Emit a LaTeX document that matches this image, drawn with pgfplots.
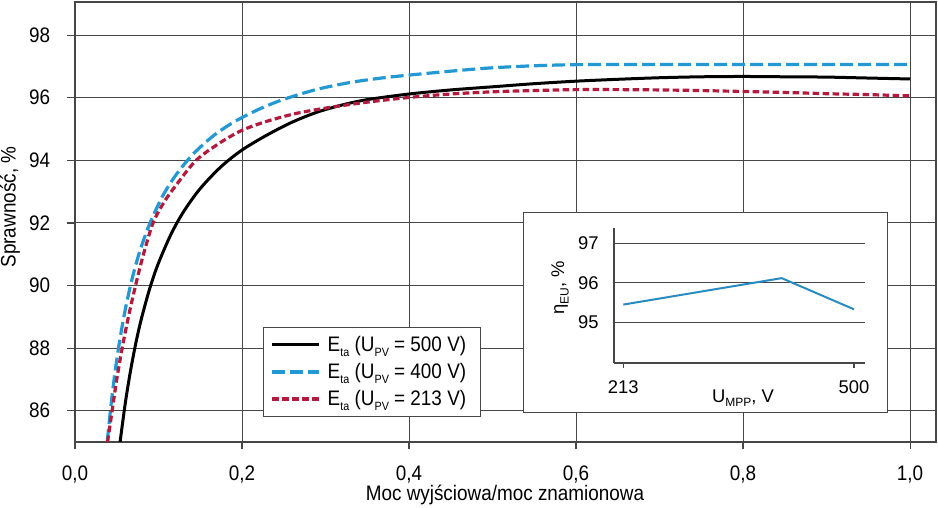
\documentclass[border=0pt]{standalone}
\usepackage{fontspec}
\setmainfont{Liberation Sans}[FakeStretch=0.9]
\newfontfamily\insetfont{Liberation Sans}
\usepackage{pgfplots}
\pgfplotsset{compat=1.18}

\definecolor{curveblue}{RGB}{35,152,210}
\definecolor{curvered}{RGB}{178,27,62}
\definecolor{insetblue}{RGB}{40,140,195}
\definecolor{gridgray}{RGB}{70,70,70}

\newcommand{\mainsize}{\fontsize{10.5}{12}\selectfont}
\newcommand{\insetsize}{\insetfont\fontsize{9.2}{11}\selectfont}
\newcommand{\sub}[1]{\raisebox{-0.45ex}{\fontsize{6}{6}\selectfont #1}}

\begin{document}
\begin{tikzpicture}
\begin{axis}[
  at={(0pt,0pt)}, anchor=south west,
  scale only axis, width=430.5pt, height=220pt,
  xmin=0, xmax=1.031, ymin=85, ymax=99.06,
  xtick={0,0.2,0.4,0.6,0.8,1}, ytick={86,88,90,92,94,96,98},
  /pgf/number format/assume math mode=true,
  xticklabel style={/pgf/number format/use comma, /pgf/number format/fixed,
    /pgf/number format/fixed zerofill, /pgf/number format/precision=1,
    anchor=north, inner sep=0pt, yshift=-8pt, font=\mainsize},
  yticklabel style={anchor=east, inner sep=0pt, xshift=-8.5pt, font=\mainsize},
  tick align=outside, xtick pos=bottom, ytick pos=left,
  major tick length=3.75pt,
  tick style={gridgray, line width=0.6pt},
  grid=major, major grid style={gridgray, line width=0.5pt},
  axis line style={gridgray, line width=0.6pt},
  xlabel={Moc wyjściowa/moc znamionowa},
  ylabel={Sprawność, \%},
  xlabel style={at={(axis description cs:0.4994,-0.1205)}, anchor=center, font=\mainsize},
  ylabel style={at={(axis description cs:-0.0755,0.534)}, anchor=center, font=\mainsize},
  legend image code/.code={\draw[#1] (0pt,0pt) -- (23.5pt,0pt);},
  legend cell align=left,
  legend style={at={(0.2184,0.2614)}, anchor=north west, draw=gridgray,
    line width=0.5pt, fill=white, font=\mainsize,
    inner xsep=3.5pt, inner ysep=2pt, row sep=0pt,
    nodes={inner ysep=2.2pt, inner xsep=3.5pt}},
]
% 500 V
\addplot[black, line width=1.5pt, smooth, tension=0.5] coordinates {
  (0.054,85.0) (0.060,86.2) (0.066,87.2) (0.073,88.18) (0.080,88.99)
  (0.090,89.95) (0.100,90.72) (0.115,91.64) (0.130,92.36) (0.150,93.10)
  (0.175,93.80) (0.200,94.33) (0.230,94.81) (0.260,95.22) (0.290,95.54)
  (0.320,95.77) (0.350,95.94) (0.400,96.12) (0.450,96.25) (0.500,96.35)
  (0.550,96.45) (0.600,96.53) (0.650,96.59) (0.700,96.64) (0.750,96.67)
  (0.800,96.68) (0.850,96.67) (0.900,96.66) (0.950,96.63) (1.000,96.60)
};
\addlegendentry{E\sub{ta} (U\sub{PV} = 500 V)}
% 400 V
\addplot[curveblue, line width=1.6pt, dash pattern=on 6.5pt off 2.5pt, smooth, tension=0.5] coordinates {
  (0.0386,85.0) (0.043,86.15) (0.048,87.25) (0.054,88.32) (0.061,89.34)
  (0.069,90.28) (0.078,91.13) (0.090,92.01) (0.105,92.86) (0.120,93.50)
  (0.140,94.16) (0.165,94.77) (0.190,95.22) (0.220,95.63) (0.250,95.95)
  (0.290,96.27) (0.330,96.49) (0.370,96.64) (0.410,96.75) (0.450,96.85)
  (0.490,96.94) (0.530,97.00) (0.570,97.04) (0.610,97.06)
  (0.700,97.06) (0.800,97.06) (0.900,97.06) (1.000,97.06)
};
\addlegendentry{E\sub{ta} (U\sub{PV} = 400 V)}
% 213 V
\addplot[curvered, line width=1.6pt, dash pattern=on 3.3pt off 1.7pt, smooth, tension=0.5] coordinates {
  (0.039,85.0) (0.0445,86.0) (0.050,87.0) (0.0565,88.0) (0.064,89.0)
  (0.0725,90.0) (0.082,91.0) (0.0935,92.0) (0.107,92.68) (0.122,93.24)
  (0.145,94.0) (0.173,94.55) (0.200,94.96) (0.230,95.25) (0.265,95.50)
  (0.305,95.69) (0.350,95.86) (0.400,96.01) (0.450,96.12) (0.500,96.19)
  (0.550,96.23) (0.600,96.26) (0.650,96.26) (0.700,96.25) (0.750,96.23)
  (0.800,96.20) (0.850,96.17) (0.900,96.13) (0.950,96.10) (1.000,96.06)
};
\addlegendentry{E\sub{ta} (U\sub{PV} = 213 V)}
\draw[gridgray, line width=1pt] (rel axis cs:0,0) -- (rel axis cs:0,1);
\end{axis}

% inset frame
\draw[gridgray, line width=0.5pt, fill=white] (224pt,14.5pt) rectangle (406pt,114.5pt);

\begin{axis}[
  at={(269.5pt,39.5pt)}, anchor=south west,
  scale only axis, width=125.5pt, height=67.5pt,
  xmin=201.4, xmax=513.7, ymin=93.97, ymax=97.39,
  axis x line=bottom, axis y line=left,
  axis line style={-, gridgray, line width=0.7pt},
  xtick={213,500}, ytick={95,96,97},
  /pgf/number format/assume math mode=true,
  xticklabel style={anchor=north, inner sep=0pt, yshift=-6pt, font=\insetsize},
  yticklabel style={anchor=east, inner sep=0pt, xshift=-5pt, font=\insetsize},
  xtick style={gridgray, line width=0.6pt}, ytick style={draw=none},
  tick align=outside, major tick length=2.5pt,
  ymajorgrids, major grid style={gridgray, line width=0.5pt},
  xlabel={U\sub{MPP}, V},
  ylabel={η\sub{EU}, \%},
  xlabel style={at={(axis description cs:0.514,-0.259)}, anchor=center, font=\insetsize},
  ylabel style={at={(axis description cs:-0.215,0.556)}, anchor=center, font=\insetsize},
]
\addplot[insetblue, line width=1pt] coordinates {(213,95.45) (410,96.12) (500,95.33)};
\end{axis}

\pgfresetboundingbox
\useasboundingbox (-37.5pt,-33pt) rectangle (431.5pt,221pt);
\end{tikzpicture}
\end{document}
